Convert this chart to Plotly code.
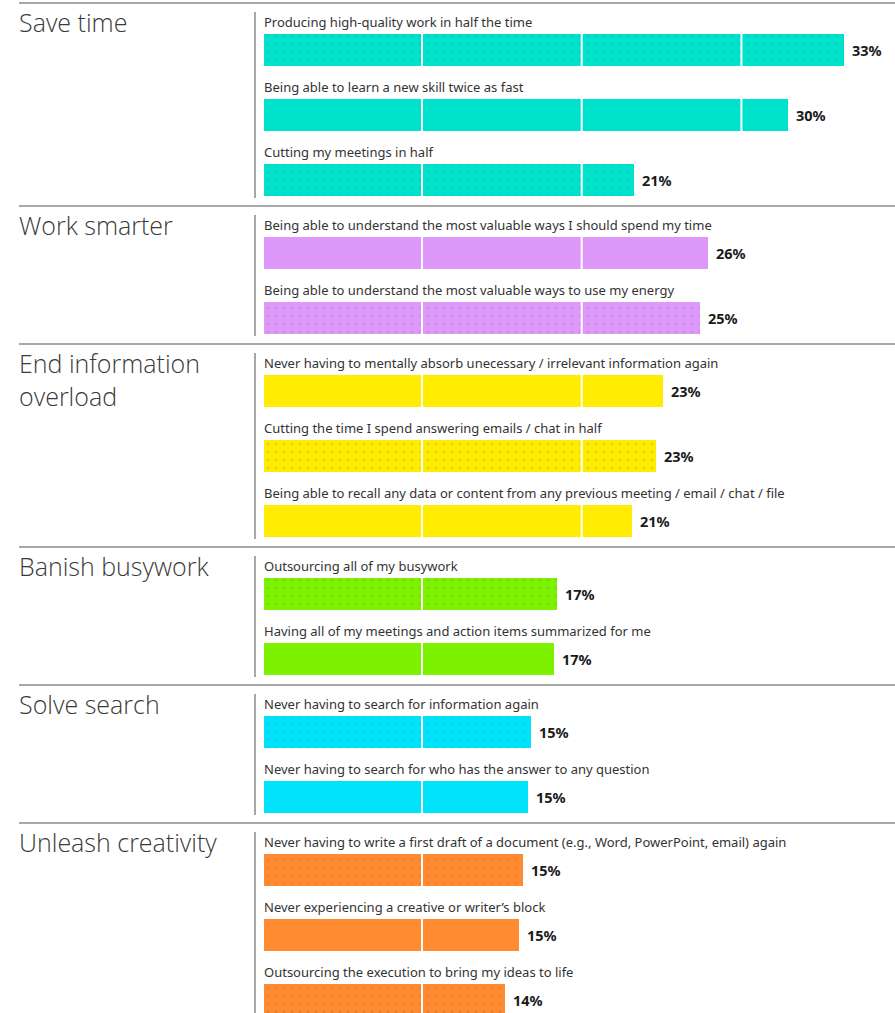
import plotly.graph_objects as go

# ---------------- data ----------------
GROUPS = ["Save time", "Work smarter", "End information<br>overload",
          "Banish busywork", "Solve search", "Unleash creativity"]
GROUP_SIZES = [3, 2, 3, 2, 2, 3]
GROUP_COLORS = ["#00E2CB", "#DE98F9", "#FFEC00", "#7DF200", "#00E3FB", "#FF8A30"]

ITEMS = [
    "Producing high-quality work in half the time",
    "Being able to learn a new skill twice as fast",
    "Cutting my meetings in half",
    "Being able to understand the most valuable ways I should spend my time",
    "Being able to understand the most valuable ways to use my energy",
    "Never having to mentally absorb unecessary / irrelevant information again",
    "Cutting the time I spend answering emails / chat in half",
    "Being able to recall any data or content from any previous meeting / email / chat / file",
    "Outsourcing all of my busywork",
    "Having all of my meetings and action items summarized for me",
    "Never having to search for information again",
    "Never having to search for who has the answer to any question",
    "Never having to write a first draft of a document (e.g., Word, PowerPoint, email) again",
    "Never experiencing a creative or writer\u2019s block",
    "Outsourcing the execution to bring my ideas to life",
]
VALUES = [33.4, 30.2, 21.3, 25.6, 25.1, 23.0, 22.6, 21.2, 16.9, 16.7, 15.4, 15.2, 14.9, 14.7, 13.9]
VALUE_LABELS = ["33%", "30%", "21%", "26%", "25%", "23%", "23%", "21%",
                "17%", "17%", "15%", "15%", "15%", "15%", "14%"]
DOTTED = [True, False, True, False, True, False, True, False,
          True, False, True, False, True, False, True]
GRID_X = [9.1, 18.3, 27.5]

# ---------------- layout constants ----------------
W, H = 895, 1013
PX = 17.36          # pixels per percent point
X0 = 264            # pixel where bars start
LEFT = 19           # pixel where group labels / separators start
VLINE = 255         # pixel of the vertical divider
PITCH = 65
BAR_H = 32
GAP = 8
TOP = 3

# compute positions
ypos, colors, sect_tops = [], [], []
s = TOP
for gi, n in enumerate(GROUP_SIZES):
    sect_tops.append(s)
    for k in range(n):
        ypos.append(s + 31 + BAR_H / 2 + PITCH * k)
        colors.append(GROUP_COLORS[gi])
    s = s + PITCH * n + GAP
sect_tops.append(s)

fig = go.Figure()
fig.add_trace(go.Bar(
    x=VALUES, y=ypos, orientation="h", width=BAR_H,
    marker=dict(
        color=colors, line=dict(width=0),
        pattern=dict(
            shape=["." if d else "" for d in DOTTED],
            size=8, solidity=0.1, fillmode="overlay",
            fgcolor="#000000", fgopacity=0.13,
        ),
    ),
    hoverinfo="skip", showlegend=False,
))

shapes = []
# white gridlines over bars
for gx in GRID_X:
    shapes.append(dict(type="line", xref="x", yref="paper", x0=gx, x1=gx, y0=0, y1=1,
                       line=dict(color="white", width=2), layer="above"))
# separators
for st in sect_tops[:-1]:
    shapes.append(dict(type="line", xref="paper", yref="y", x0=LEFT / W, x1=1, y0=st, y1=st,
                       line=dict(color="#A8A8A8", width=2), layer="above"))
# vertical dividers
for i in range(len(GROUPS)):
    y0 = sect_tops[i] + 9
    y1 = min(sect_tops[i + 1] - 8, H)
    shapes.append(dict(type="line", xref="paper", yref="y", x0=VLINE / W, x1=VLINE / W,
                       y0=y0, y1=y1, line=dict(color="#A8A8A8", width=2), layer="above"))

ann = []
for i, g in enumerate(GROUPS):
    ann.append(dict(text=g, xref="paper", yref="y", x=LEFT / W, y=sect_tops[i], xshift=-2,
                    xanchor="left", yanchor="top", showarrow=False, align="left",
                    font=dict(family="Open Sans, Noto Sans, sans-serif", size=25, color="#3a3a3a",
                              weight=300)))
for i, it in enumerate(ITEMS):
    ann.append(dict(text=it, xref="x", yref="y", x=0, y=ypos[i] - 28, xshift=-2,
                    xanchor="left", yanchor="middle", showarrow=False,
                    font=dict(family="Noto Sans, sans-serif", size=13, color="#333333")))
    ann.append(dict(text=VALUE_LABELS[i], xref="x", yref="y", x=VALUES[i], y=ypos[i],
                    xanchor="left", yanchor="middle", xshift=6, showarrow=False,
                    font=dict(family="Noto Sans, sans-serif", size=14.5, color="#1a1a1a",
                              weight="bold")))

fig.update_layout(
    width=W, height=H, margin=dict(l=0, r=0, t=0, b=0),
    paper_bgcolor="white", plot_bgcolor="white",
    xaxis=dict(range=[-X0 / PX, (W - X0) / PX], domain=[0, 1], visible=False, fixedrange=True),
    yaxis=dict(range=[H, 0], domain=[0, 1], visible=False, fixedrange=True),
    shapes=shapes, annotations=ann, bargap=0,
)

fig.write_html("out.html")
